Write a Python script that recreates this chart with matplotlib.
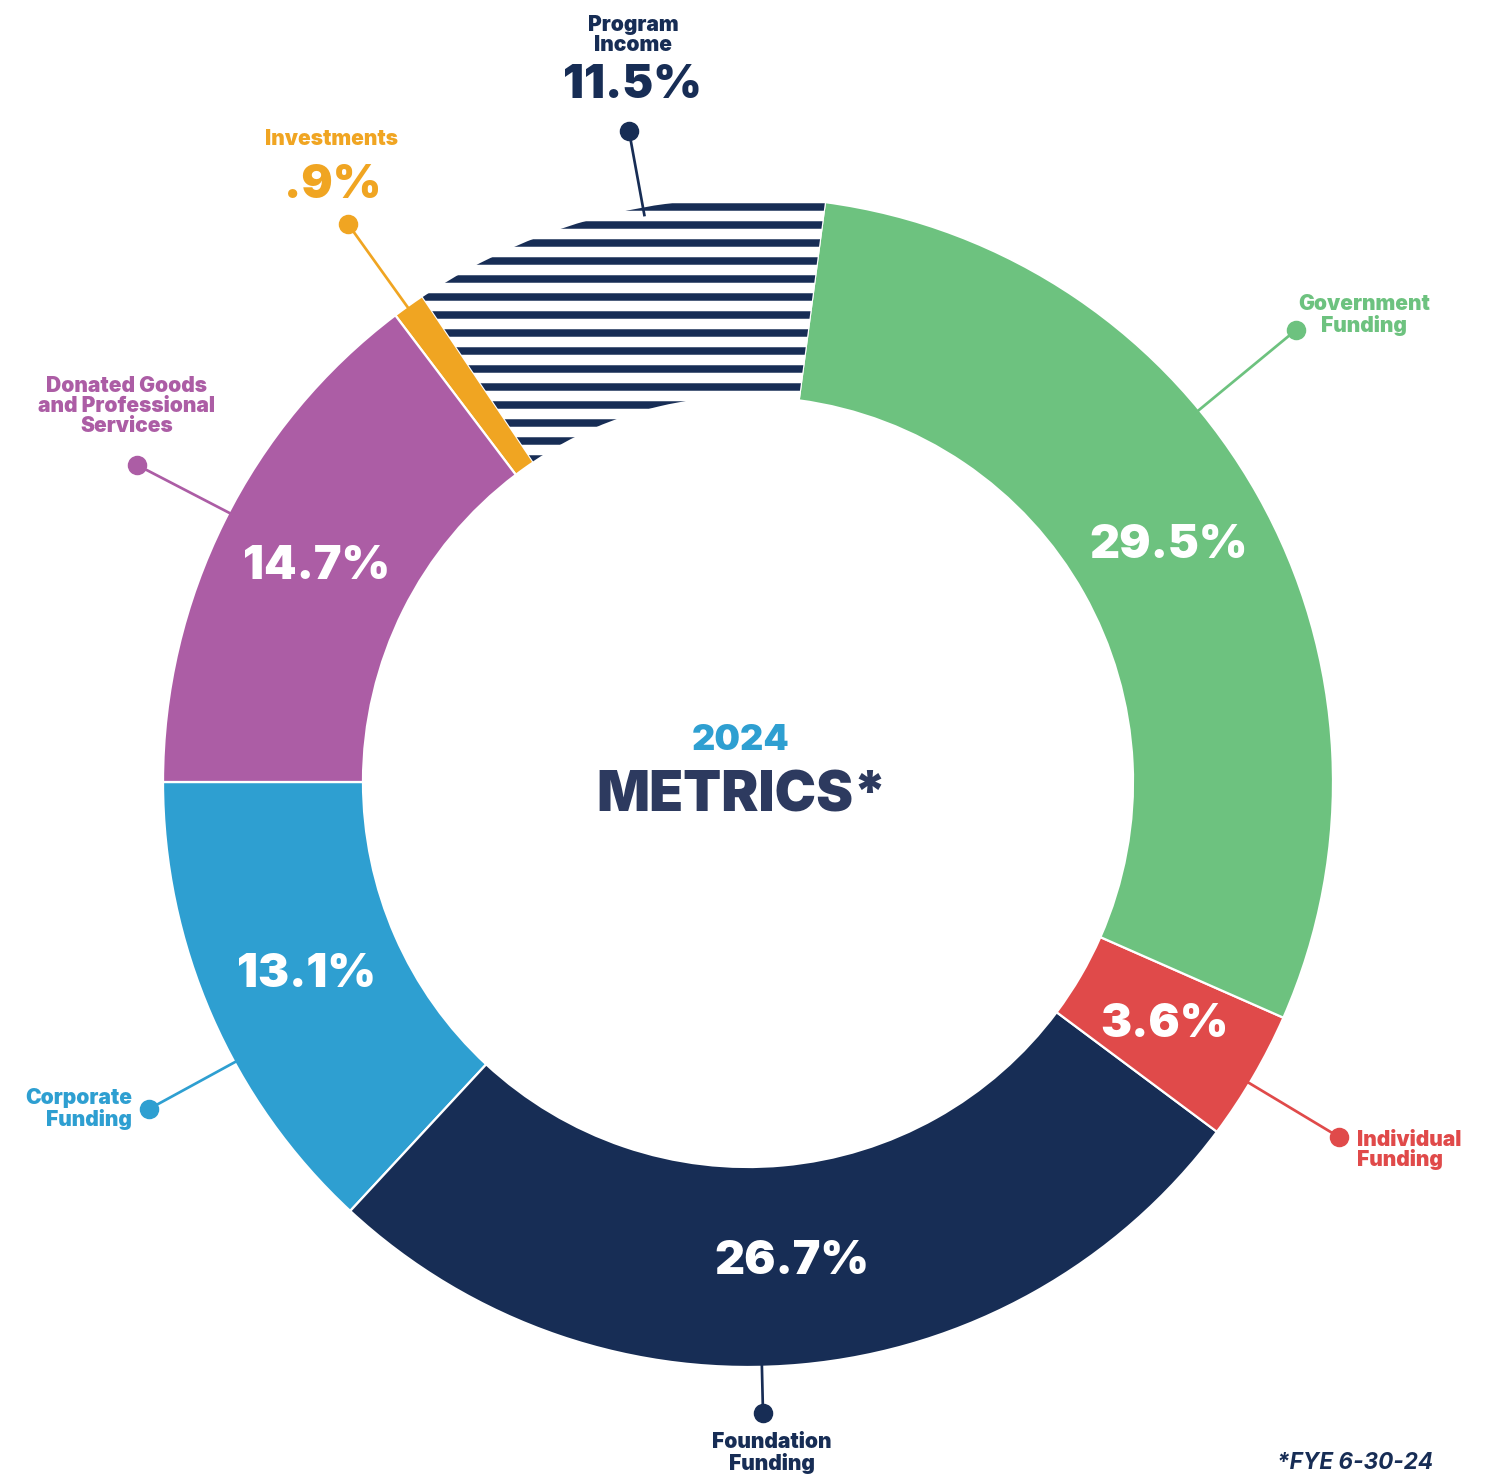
import numpy as np
import matplotlib
matplotlib.use("Agg")
import matplotlib.pyplot as plt
from matplotlib.patches import Wedge

# revenue sources, in drawing order (starting at 9 o'clock, going down)
sources = ['Corporate\nFunding', 'Foundation\nFunding', 'Individual\nFunding',
           'Government\nFunding', 'Program\nIncome', 'Investments',
           'Donated Goods\nand Professional\nServices']
shares = [13.1, 26.7, 3.6, 29.5, 11.5, 0.9, 14.7]
pct_labels = ['13.1%', '26.7%', '3.6%', '29.5%', '11.5%', '.9%', '14.7%']
colors = ['#2E9FD1', '#172D55', '#E04A4A', '#6DC27F', '#172D55', '#F0A522', '#AC5DA5']

year = '2024'
title = 'METRICS*'
footnote = '*FYE 6-30-24'

NAVY = '#172D55'
W, H, DPI = 1495, 1476, 108
plt.rcParams['font.family'] = ['Inter', 'DejaVu Sans']
plt.rcParams['hatch.linewidth'] = 5
plt.rcParams['hatch.color'] = NAVY

fig = plt.figure(figsize=(W / DPI, H / DPI), dpi=DPI)
ax = fig.add_axes([0, 0, 1, 1])

cx, cy, R, ring = 748, 782, 585, 200

# y axis runs downward, so clockwise in data = counter-clockwise on screen
wedges, _ = ax.pie(shares, colors=colors, startangle=180, counterclock=False,
                   center=(cx, cy), radius=R,
                   wedgeprops=dict(width=ring, edgecolor='white', linewidth=1.5))
ax.set_xlim(0, W)
ax.set_ylim(H, 0)
ax.set_aspect('equal')
ax.axis('off')

# striped "Program Income" slice
pw = wedges[4]
pw.set_facecolor('white')
ax.add_patch(Wedge((cx, cy), R - 1, pw.theta1, pw.theta2, width=ring - 2,
                   facecolor='none', edgecolor=NAVY, linewidth=0, hatch='-', zorder=3))

# inside percentage labels
inside = [0, 1, 2, 3, 6]
for i in inside:
    w = wedges[i]
    mid = np.deg2rad((w.theta1 + w.theta2) / 2)
    r = R - ring / 2 - 3
    ax.text(cx + r * np.cos(mid), cy + r * np.sin(mid), pct_labels[i],
            color='white', fontsize=31, fontweight='black', ha='center', va='center', zorder=5)

# leader dots and name labels: dot pos, label pos, alignment
dots = [(149, 1109), (763, 1413), (1339, 1137), (1296, 330), (629, 131), (348, 224), (137, 465)]
name_pos = [(132, 1109, 'right'), (772, 1453, 'center'), (1357, 1150, 'left'),
            (1364, 315, 'center'), (633, 35, 'center'), (331, 139, 'center'),
            (127, 406, 'center')]

for i, (dx, dy) in enumerate(dots):
    ang = np.arctan2(dy - cy, dx - cx)
    sx, sy = cx + (R - 10) * np.cos(ang), cy + (R - 10) * np.sin(ang)
    ax.plot([dx, sx], [dy, sy], color=colors[i], lw=1.8, zorder=1, solid_capstyle='butt')
    ax.plot(dx, dy, 'o', color=colors[i], ms=12, zorder=6)
    tx, ty, ha = name_pos[i]
    ax.text(tx, ty, sources[i], color=colors[i], fontsize=14, fontweight='black',
            ha=ha, va='center', multialignment=ha, linespacing=1.0, zorder=6)

# outside percentage labels
ax.text(632, 86, pct_labels[4], color=NAVY, fontsize=31, fontweight='black',
        ha='center', va='center')
ax.text(333, 186, pct_labels[5], color=colors[5], fontsize=31, fontweight='black',
        ha='center', va='center')

# centre title
ax.text(741, 741, year, color='#2E9FD1', fontsize=24, fontweight='black',
        ha='center', va='center')
ax.text(742, 797, title, color='#2D3A5F', fontsize=37, fontweight='black',
        ha='center', va='center')

ax.text(1277, 1474, footnote, color=NAVY, fontsize=15, fontweight='bold',
        style='italic', ha='left', va='bottom')

fig.savefig('out.png', dpi=DPI)
